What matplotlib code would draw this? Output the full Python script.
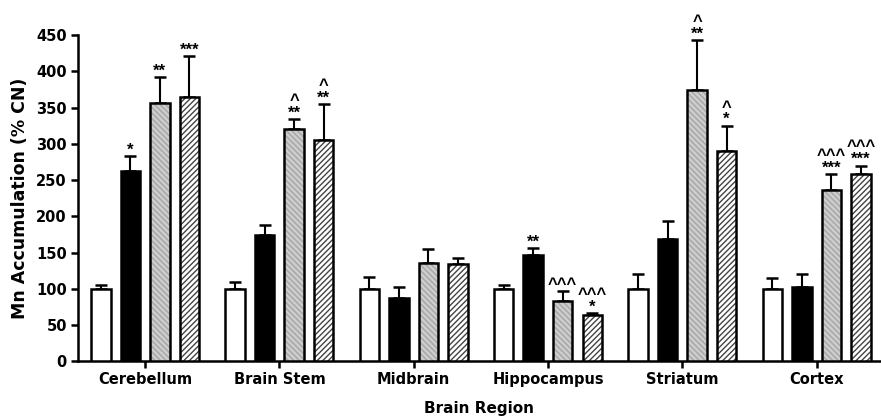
import numpy as np
import matplotlib
import matplotlib.pyplot as plt

matplotlib.rcParams.update({
    "font.family": "sans-serif", "font.sans-serif": ["DejaVu Sans"],
    "font.weight": "bold", "axes.labelweight": "bold",
    "hatch.linewidth": 1.0,
})

regions = ["Cerebellum", "Brain Stem", "Midbrain", "Hippocampus", "Striatum", "Cortex"]
# four groups per region (white, black, grey, hatched)
means = [
    [100, 100, 99, 99, 100, 100],
    [262, 174, 87, 147, 168, 102],
    [356, 320, 135, 83, 374, 236],
    [364, 305, 134, 64, 290, 259],
]
errs = [
    [5, 9, 17, 6, 21, 15],
    [21, 14, 15, 9, 25, 19],
    [36, 14, 20, 14, 69, 22],
    [57, 50, 9, 2, 35, 11],
]
stars = [
    ["", "", "", "", "", ""],
    ["*", "", "", "**", "", ""],
    ["**", "**", "", "", "**", "***"],
    ["***", "**", "", "*", "*", "***"],
]
carets = [
    ["", "", "", "", "", ""],
    ["", "", "", "", "", ""],
    ["", "^", "", "^^^", "^", "^^^"],
    ["", "^", "", "^^^", "^", "^^^"],
]

fig = plt.figure(figsize=(8.81, 4.19), dpi=100)
ax = fig.add_axes([0.0885, 0.138, 0.91, 0.778])

x = np.arange(len(regions))
step, w = 0.22, 0.145
for gi in range(4):
    xs = x + (gi - 1.5) * step
    m = np.array(means[gi]); e = np.array(errs[gi])
    ax.errorbar(xs, m, yerr=[np.zeros_like(e), e], fmt="none", ecolor="black",
                elinewidth=1.5, capsize=4, capthick=1.8, zorder=2)
    if gi == 0:
        ax.bar(xs, m, w, color="white", edgecolor="black", linewidth=1.8, zorder=3)
    elif gi == 1:
        ax.bar(xs, m, w, color="black", edgecolor="black", linewidth=1.8, zorder=3)
    elif gi == 2:
        ax.bar(xs, m, w, color="#cdcdcd", edgecolor="#a5a5a5", hatch="\\\\\\\\\\\\",
               linewidth=0, zorder=3)
        ax.bar(xs, m, w, fill=False, edgecolor="black", linewidth=1.8, zorder=4)
    else:
        ax.bar(xs, m, w, color="white", edgecolor="#444444", hatch="//////",
               linewidth=0, zorder=3)
        ax.bar(xs, m, w, fill=False, edgecolor="black", linewidth=1.8, zorder=4)
    for xi, mi, ei, s, c in zip(xs, m, e, stars[gi], carets[gi]):
        label = "\n".join(t for t in (c, s) if t)
        if label:
            ax.text(xi, mi + ei - 2, label, ha="center", va="bottom", fontsize=12,
                    family="Liberation Sans", fontweight="bold", linespacing=0.8)

ax.set_xlim(-0.5, 5.47)
ax.set_ylim(0, 450)
ax.set_yticks(range(0, 451, 50))
ax.set_xticks(x)
ax.set_xticklabels(regions)
ax.tick_params(axis="both", labelsize=10.5, width=1.8, length=5, direction="out", pad=3)
ax.set_ylabel("Mn Accumulation (% CN)", fontsize=12.5, labelpad=5)
ax.set_xlabel("Brain Region", fontsize=11, labelpad=10)
for s in ("top", "right"):
    ax.spines[s].set_visible(False)
for s in ("left", "bottom"):
    ax.spines[s].set_linewidth(1.8)

fig.savefig("out.png", dpi=100)
